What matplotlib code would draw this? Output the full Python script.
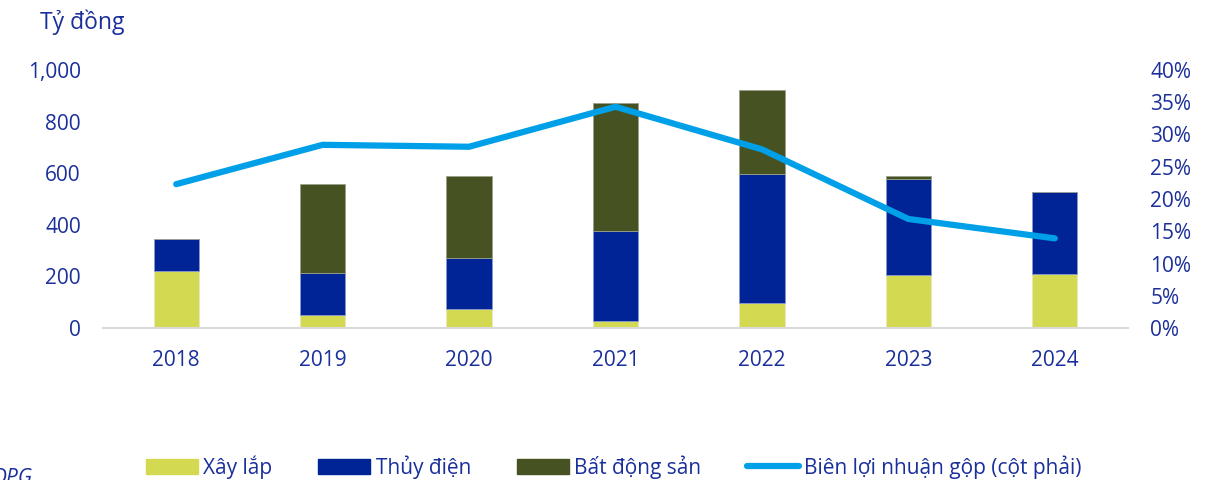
import matplotlib
matplotlib.use("Agg")
import matplotlib.pyplot as plt
import numpy as np
from matplotlib.patches import Patch
from matplotlib.lines import Line2D

years = ["2018", "2019", "2020", "2021", "2022", "2023", "2024"]
xay_lap = [219, 49, 75, 27, 97, 207, 209]
thuy_dien = [126, 164, 196, 350, 501, 369, 318]
bat_dong_san = [0, 346, 319, 494, 326, 15, 0]
bien_lng = [22.3, 28.4, 28.1, 34.3, 27.7, 16.9, 13.9]

c_xl = "#D4D952"
c_td = "#002395"
c_bds = "#465221"
c_line = "#00A0E9"
c_text = "#1A2F9A"

plt.rcParams['font.family'] = ['Open Sans', 'DejaVu Sans']

fig = plt.figure(figsize=(12.25, 4.8), dpi=100)
ax = fig.add_axes([103/1225, 1-328/480, (1128-103)/1225, (328-70)/480])
x = np.arange(len(years))
w = 0.31
xl = np.array(xay_lap); td = np.array(thuy_dien); bd = np.array(bat_dong_san)
ax.bar(x, xl, w, color=c_xl, edgecolor='#E8E8C0', linewidth=0.6)
ax.bar(x, td, w, bottom=xl, color=c_td, edgecolor='#8A9AD0', linewidth=0.6)
ax.bar(x, bd, w, bottom=xl+td, color=c_bds, edgecolor='#9AA08A', linewidth=0.6)

ax.set_xlim(-0.5, 6.5)
ax.set_ylim(0, 1000)
ax.set_yticks([0, 200, 400, 600, 800, 1000])
ax.set_yticklabels(["0", "200", "400", "600", "800", "1,000"])
ax.set_xticks(x)
ax.set_xticklabels(years)
for s in ['top', 'right', 'left']:
    ax.spines[s].set_visible(False)
ax.spines['bottom'].set_color('#D9D9D9')
ax.spines['bottom'].set_linewidth(1.5)
ax.tick_params(axis='both', length=0, labelsize=15, colors=c_text)
ax.tick_params(axis='x', pad=16)
ax.tick_params(axis='y', pad=16)

ax2 = ax.twinx()
ax2.plot(x, bien_lng, color=c_line, linewidth=4.5, solid_capstyle='round', solid_joinstyle='round')
ax2.set_ylim(0, 40)
ax2.set_yticks(range(0, 41, 5))
ax2.set_yticklabels([f"{v}%" for v in range(0, 41, 5)])
for s in ['top', 'right', 'left', 'bottom']:
    ax2.spines[s].set_visible(False)
ax2.tick_params(axis='y', length=0, labelsize=15, colors=c_text, pad=16)

fig.text(40/1225, 1-22/480, "Tỷ đồng", fontsize=16.5, color=c_text, va='center', ha='left')
fig.text(-8/1225, 1-478/480, "DPG", fontsize=15, color=c_text, style='italic', va='center', ha='left')

handles = [Patch(color=c_xl), Patch(color=c_td), Patch(color=c_bds),
           Line2D([0], [0], color=c_line, linewidth=4.5, solid_capstyle='round')]
labels = ["Xây lắp", "Thủy điện", "Bất động sản", "Biên lợi nhuận gộp (cột phải)"]
leg = fig.legend(handles, labels, ncol=4, loc='center', bbox_to_anchor=(614/1225, 1-467/480),
                 frameon=False, fontsize=15, handlelength=2.5, handleheight=0.75,
                 columnspacing=2.2, handletextpad=0.25)
for t in leg.get_texts():
    t.set_color(c_text)

fig.savefig("out.png", dpi=100)
